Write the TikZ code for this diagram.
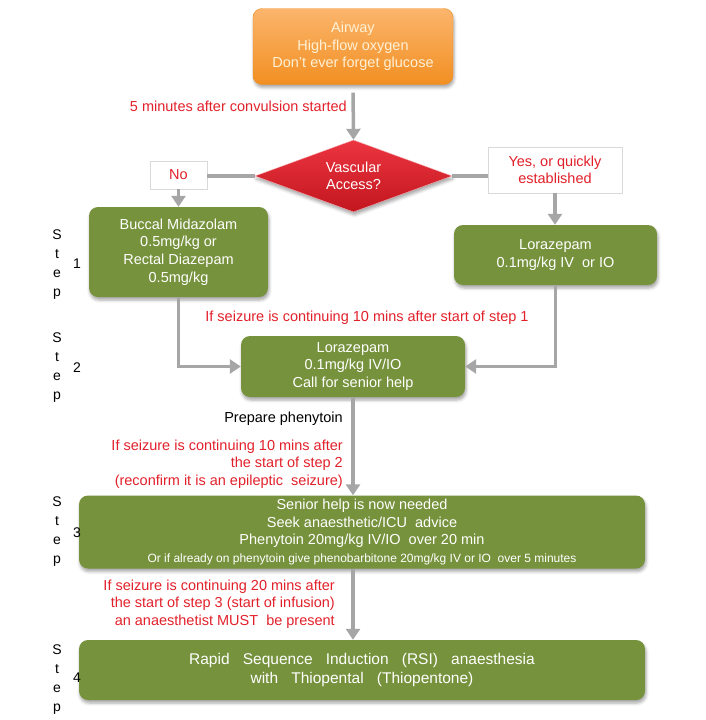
\documentclass[tikz,border=0pt]{standalone}
\usepackage{fontspec}
\setmainfont{Liberation Sans}
\usetikzlibrary{shapes.geometric,arrows.meta,shadows.blur}
\definecolor{orangetop}{HTML}{FBB56C}
\definecolor{orangebot}{HTML}{F28F22}
\definecolor{cream}{HTML}{FFF1D6}
\definecolor{boxgreen}{HTML}{76923C}
\definecolor{redtop}{HTML}{EC3540}
\definecolor{redbot}{HTML}{C2161F}
\definecolor{notered}{HTML}{E2202A}
\definecolor{linegray}{HTML}{A6A6A6}
\newcommand{\widespace}{\spaceskip=0.85em\relax}
\tikzstyle{shadowed} = [blur shadow={shadow xshift=1pt, shadow yshift=-3pt,
    shadow blur radius=3pt, shadow opacity=35}]
\tikzstyle{startbox} = [shadowed, rectangle, rounded corners=9pt, draw=orangebot,
    top color=orangetop, bottom color=orangebot, text=cream, align=center,
    minimum width=200, minimum height=76]
\tikzstyle{decision} = [diamond, shadowed, draw=redtop!40, top color=redtop,
    bottom color=redbot, text=white, align=center, inner sep=0, aspect=2.7,
    minimum width=197, minimum height=72]
\tikzstyle{answer} = [rectangle, draw=black!15, fill=white, text=notered,
    align=center, inner sep=0]
\tikzstyle{stepbox} = [shadowed, rectangle, rounded corners=9pt, fill=boxgreen,
    text=white, align=center, inner sep=0]
\tikzstyle{note} = [text=notered, inner sep=0]
\tikzstyle{steplbl} = [align=center, inner sep=0, anchor=north,
    font=\fontsize{14}{18.8}\selectfont]
\tikzstyle{stepnum} = [inner sep=0, anchor=base, font=\fontsize{14}{17}\selectfont]
\tikzstyle{flow} = [draw=linegray, line width=3.5pt,
    -{Triangle[width=14pt,length=11pt]}]
\tikzstyle{link} = [draw=linegray, line width=3.5pt]

\begin{document}
\begin{tikzpicture}[x=1pt, y=-1pt, font=\fontsize{14.5}{17.6}\selectfont]
    \useasboundingbox (0,0) rectangle (705,720);
    % boxes
    \node [startbox] (airway) at (353,46.5)
        {Airway\\High-flow oxygen\\Don't ever forget glucose};
    \node [decision] (access) at (353.5,176) {Vascular\\Access?};
    \node [answer, minimum width=57, minimum height=28] (no) at (178.5,175) {No};
    \node [answer, minimum width=134, minimum height=46] (yes) at (555,170)
        {Yes, or quickly\\established};
    \node [stepbox, minimum width=179, minimum height=90] (buccal) at (178.5,252)
        {Buccal Midazolam\\0.5mg/kg or\\Rectal Diazepam\\0.5mg/kg};
    \node [stepbox, minimum width=203, minimum height=60] (lorazivio) at (555.5,255)
        {Lorazepam\\0.1mg/kg IV\ \ or IO};
    \node [stepbox, minimum width=224, minimum height=61] (lorazhelp) at (353,366.5)
        {Lorazepam\\0.1mg/kg IV/IO\\Call for senior help};
    \node [stepbox, minimum width=566, minimum height=73] (phenytoin) at (362,532)
        {Senior help is now needed\\Seek anaesthetic/ICU\ \ advice\\
         Phenytoin 20mg/kg IV/IO\ \ over 20 min\\
         {\fontsize{12}{15}\selectfont Or if already on phenytoin give phenobarbitone 20mg/kg IV or IO\ \ over 5 minutes}};
    \node [stepbox, minimum width=566, minimum height=60,
        font=\fontsize{15.5}{19}\selectfont] (rsi) at (362,670)
        {\widespace Rapid Sequence Induction (RSI) anaesthesia\\
         \widespace with Thiopental (Thiopentone)};

    % connectors
    \draw [flow, shorten <=8pt] (airway.south) -- (access.north);
    \draw [link] (access.west) -- (access.west -| no.east);
    \draw [link] (access.east) -- (access.east -| yes.west);
    \draw [flow] (no.south) -- (no.south |- buccal.north);
    \draw [flow] (yes.south) -- (yes.south |- lorazivio.north);
    \draw [flow] (buccal.south) |- (lorazhelp.west);
    \draw [flow] (lorazivio.south) |- (lorazhelp.east);
    \draw [flow] (lorazhelp.south) -- (lorazhelp.south |- phenytoin.north);
    \draw [flow] (lorazhelp.south |- phenytoin.south) -- (lorazhelp.south |- rsi.north);

    % notes
    \node [note, anchor=east] (convulsion) at (347,106) {5 minutes after convulsion started};
    \node [note] (tenstep1) at (367,317.5) {If seizure is continuing 10 mins after start of step 1};
    \node [inner sep=0, anchor=east] (prepare) at (343,418.5) {Prepare phenytoin};
    \node [note, anchor=east, align=right] (tenstep2) at (343,464)
        {If seizure is continuing 10 mins after\\the start of step 2\\
         (reconfirm it is an epileptic\ \ seizure)};
    \node [note, anchor=east, align=right] (twentystep3) at (335,604)
        {If seizure is continuing 20 mins after\\the start of step 3 (start of infusion)\\
         an anaesthetist MUST\ \ be present};

    % step labels
    \node [steplbl] (steponel) at (57,229.7) {S\\t\\e\\p};
    \node [stepnum] (stepone) at (77,268) {1};
    \node [steplbl] (steptwol) at (57,332.7) {S\\t\\e\\p};
    \node [stepnum] (steptwo) at (77,372) {2};
    \node [steplbl] (stepthreel) at (57,496.7) {S\\t\\e\\p};
    \node [stepnum] (stepthree) at (77,537) {3};
    \node [steplbl] (stepfourl) at (57,644.7) {S\\t\\e\\p};
    \node [stepnum] (stepfour) at (77,682) {4};
\end{tikzpicture}
\end{document}
